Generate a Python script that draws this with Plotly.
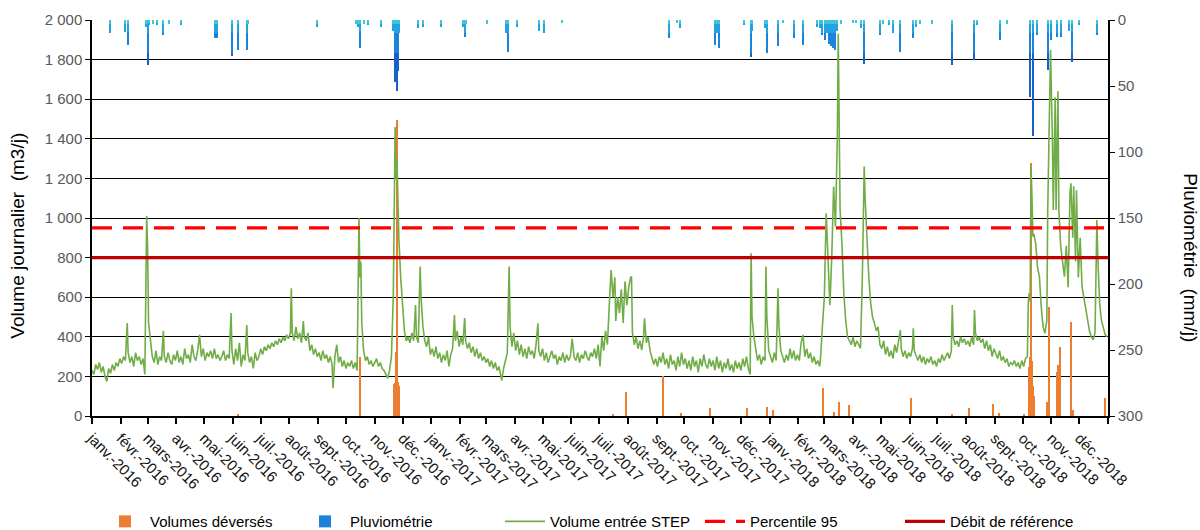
import pandas as pd
import plotly.graph_objects as go

START = pd.Timestamp("2016-01-01")

# ---- month tick labels ----
mois = ["janv.", "févr.", "mars", "avr.", "mai", "juin", "juil.", "août", "sept.", "oct.", "nov.", "déc."]
annees = [2016, 2017, 2018]

# ---- Volume entrée STEP (day offset from 2016-01-01, m3/j) ----
entree_2016 = [(0,230),(2,210),(4,260),(6,235),(8,270),(10,220),(12,250),(14,200),(16,175),(18,240),(20,215),(22,260),
    (24,230),(26,270),(28,250),(30,290),(32,265),(34,300),(36,280),(38,470),(39,320),(41,270),(43,300),(45,250),(47,320),
    (49,280),(51,300),(53,260),(55,290),(57,210),(59,1010),(60,850),(61,470),(63,380),(65,300),(67,270),(69,330),(71,260),
    (73,300),(75,280),(77,430),(78,300),(80,270),(82,320),(84,280),(86,260),(88,310),(90,280),(92,330),(94,270),(96,300),
    (98,260),(100,340),(102,290),(104,310),(106,270),(108,360),(110,300),(112,280),(114,330),(116,410),(118,300),(120,340),
    (122,280),(124,320),(126,300),(128,330),(130,290),(132,340),(134,290),(136,310),(138,280),(140,300),(142,330),(144,280),
    (146,310),(148,290),(150,520),(151,330),(153,260),(155,340),(157,280),(159,370),(161,250),(163,310),(165,280),(167,460),
    (168,320),(170,270),(172,300),(174,240),(176,320),(178,280),(180,300),(182,340),(184,310),(186,350),(188,330),(190,360),
    (192,340),(194,370),(196,350),(198,380),(200,360),(202,390),(204,370),(206,400),(208,380),(210,410),(212,390),(214,420),
    (215,645),(216,420),(218,380),(220,450),(222,390),(224,420),(226,370),(228,480),(229,400),(231,380),(233,420),(235,330),
    (237,360),(239,310),(241,340),(243,300),(245,320),(247,280),(249,330),(251,290),(253,310),(255,270),(257,300),(259,260),
    (260,140),(262,300),(264,360),(266,270),(268,300),(270,250),(272,280),(274,240),(276,270),(278,250),(280,280),(282,240),
    (284,270),(286,230),(288,1000),(289,700),(290,780),(291,470),(293,330),(295,280),(297,300),(299,260),(301,280),(303,250),
    (305,270),(307,290),(309,250),(311,270),(313,240),(315,230),(317,210),(319,190),(321,230),(323,300),(325,600),(327,1460),
    (328,1200),(329,1300),(330,1100),(331,900),(333,700),(335,540),(337,430),(339,380),(341,400),(343,370),(345,420),(347,380),
    (349,560),(350,400),(352,370),(354,755),(355,600),(357,450),(359,380),(361,350),(363,400),(365,310)]

entree_2017 = [(367,340),(369,300),(371,350),(373,290),(375,320),(377,270),(379,310),(381,280),(383,330),(385,250),(387,310),
    (389,340),(391,510),(392,380),(394,430),(396,350),(398,400),(400,360),(402,495),(403,380),(405,340),(407,370),(409,320),
    (411,350),(413,300),(415,340),(417,290),(419,320),(421,280),(423,300),(425,270),(427,290),(429,250),(431,280),(433,240),
    (435,270),(437,230),(439,250),(441,200),(442,180),(444,240),(446,280),(448,320),(450,755),(451,450),(453,350),(455,420),
    (457,330),(459,380),(461,310),(463,360),(465,300),(467,340),(469,290),(471,350),(473,310),(475,330),(477,290),(479,360),
    (481,468),(482,330),(484,300),(486,340),(488,280),(490,320),(492,270),(494,300),(496,330),(498,290),(500,310),(502,260),
    (504,300),(506,280),(508,320),(510,270),(512,310),(514,280),(516,300),(518,390),(520,300),(522,280),(524,320),(526,270),
    (528,310),(530,290),(532,330),(534,300),(536,280),(538,320),(540,300),(542,340),(544,290),(546,360),(548,250),(550,400),
    (552,330),(554,430),(556,360),(558,560),(560,737),(562,600),(564,700),(565,480),(567,600),(569,520),(571,640),(573,470),
    (575,680),(577,560),(579,650),(581,700),(582,704),(583,420),(585,360),(587,400),(589,340),(591,380),(593,333),(595,400),
    (596,493),(598,370),(600,400),(602,330),(604,300),(606,260),(608,290),(610,250),(612,300),(614,270),(616,320),(618,260),
    (620,290),(622,240),(624,310),(626,260),(628,280),(630,230),(632,300),(634,250),(636,320),(638,260),(640,290),(642,240),
    (644,280),(646,230),(648,300),(650,250),(652,280),(654,220),(656,290),(658,250),(660,310),(662,260),(664,240),(666,290),
    (668,250),(670,280),(672,230),(674,300),(676,240),(678,280),(680,220),(682,270),(684,240),(686,290),(688,230),(690,260),
    (692,220),(694,280),(696,240),(698,270),(700,230),(702,290),(704,250),(706,300),(708,240),(710,210),(711,822),(712,500),
    (714,400),(716,330),(718,280),(720,310),(722,260),(724,300),(726,280),(727,755),(728,500),(730,330)]

entree_2018 = [(732,300),(734,270),(736,320),(738,280),(740,645),(741,450),(743,330),(745,300),(747,270),(749,310),(751,280),
    (753,340),(755,290),(757,330),(759,280),(761,310),(763,280),(765,370),(767,410),(769,300),(771,340),(773,290),(775,320),
    (777,270),(779,300),(781,260),(783,280),(785,250),(786,300),(788,460),(790,600),(792,1024),(794,800),(796,560),(798,800),
    (800,1159),(802,957),(804,1400),(805,1930),(806,1400),(807,1040),(809,872),(811,620),(813,485),(815,400),(817,380),
    (819,360),(821,400),(823,350),(825,380),(827,360),(829,342),(831,700),(833,1260),(834,1100),(836,872),(838,700),(840,570),
    (842,500),(844,470),(846,430),(848,450),(850,360),(852,340),(854,380),(856,310),(858,350),(860,300),(862,330),(864,290),
    (866,360),(868,320),(870,380),(872,434),(873,340),(875,300),(877,330),(879,290),(881,320),(883,300),(885,340),(886,443),
    (887,330),(889,300),(891,280),(893,310),(895,270),(897,300),(899,260),(901,290),(903,270),(905,300),(907,260),(909,280),
    (911,250),(913,290),(915,270),(917,310),(919,280),(921,300),(923,320),(925,290),(927,330),(928,560),(929,400),(931,360),
    (933,380),(935,350),(937,400),(939,370),(941,390),(943,360),(945,380),(947,350),(949,400),(951,360),(952,535),(953,420),
    (955,380),(957,400),(959,370),(961,390),(963,340),(965,380),(967,330),(969,360),(971,300),(973,340),(975,310),(977,290),
    (979,330),(981,280),(983,300),(985,270),(987,290),(989,250),(991,270),(993,260),(995,280),(997,250),(999,270),(1001,240),
    (1003,280),(1005,250),(1007,290),(1009,300),(1010,569),(1011,620),(1012,580),(1013,1260),(1014,1100),(1015,906),
    (1016,920),(1018,872),(1020,750),(1022,704),(1024,550),(1026,450),(1028,418),(1030,480),(1031,1040),(1033,1750),
    (1034,1848),(1036,1400),(1037,1040),(1039,1610),(1040,1040),(1042,1640),(1043,1040),(1045,855),(1047,780),(1049,704),
    (1051,860),(1053,650),(1055,1125),(1056,1175),(1058,900),(1059,1160),(1061,780),(1062,1140),(1064,700),(1066,900),
    (1068,653),(1070,600),(1072,535),(1074,480),(1076,430),(1078,400),(1080,385),(1082,420),(1084,990),(1085,800),
    (1087,569),(1089,480),(1091,450),(1093,410),(1095,400)]

# ---- Volumes déversés (day offset, m3/j) ----
deverses = [(158,8),(290,300),(326,160),(327,165),(328,325),(329,320),(330,1495),(331,170),(332,150),(562,10),(576,123),
    (616,200),(636,15),(667,39),(707,39),(729,47),(735,30),(789,140),(801,20),(806,72),(817,56),(884,90),(928,10),
    (947,39),(972,60),(979,15),(1006,10),(1011,250),(1012,300),(1013,1280),(1014,280),(1015,200),(1016,150),(1017,100),
    (1031,72),(1033,552),(1041,224),(1043,260),(1045,350),(1057,476),(1059,30),(1093,90)]

# ---- Pluviométrie (day offset, mm/j) ----
pluie = [(19,10),(36,9),(39,19),(58,5),(60,34),(62,4),(66,3),(70,4),(77,11),(83,3),(96,4),(133,14),(135,14),(151,27),
    (158,23),(167,23),(168,3),(243,5),(285,3),(287,5),(289,21),(293,3),(298,4),(312,5),(325,8),(327,47),(328,40),(329,54),
    (330,39),(331,10),(352,6),(357,5),(377,5),(400,5),(402,13),(404,3),(426,3),(447,10),(449,24),(459,5),(482,8),(488,10),
    (507,2),(623,14),(631,2),(634,6),(672,19),(674,10),(676,21),(703,4),(711,28),(712,8),(726,6),(728,25),(740,20),(745,2),
    (757,14),(767,19),(782,5),(785,6),(788,11),(791,15),(793,10),(795,18),(797,20),(799,21),(802,23),(804,8),(808,3),(821,2),
    (824,2),(830,6),(833,33),(850,11),(853,3),(860,4),(864,10),(872,24),(886,14),(889,5),(893,3),(906,3),(928,34),(952,30),
    (955,4),(980,15),(987,3),(1012,58),(1015,88),(1020,11),(1031,38),(1035,15),(1041,13),(1045,13),(1054,8),(1057,32),
    (1065,4),(1084,11)]

percentile_95 = 950
debit_reference = 800

# ---------------------------------------------------------------
def to_dates(days):
    return [START + pd.Timedelta(days=int(d)) for d in days]

entree = entree_2016 + entree_2017 + entree_2018
e_x = to_dates([d for d, _ in entree])
e_y = [v for _, v in entree]
d_x = to_dates([d for d, _ in deverses])
d_y = [v for _, v in deverses]
p_x = to_dates([d for d, _ in pluie])
p_v = [v for _, v in pluie]

DAY_MS = 86400000
fig = go.Figure()

fig.add_trace(go.Bar(x=d_x, y=d_y, name="Volumes déversés", marker=dict(color="#ED7D31", line=dict(width=0)),
                     width=1.6 * DAY_MS, legendrank=1, offsetgroup="dev"))

# rain bars drawn as stacked colour bands to imitate the vertical gradient
bands = [(0, 3, "#3CC6D6"), (3, 10, "#22A2E2"), (10, 25, "#1B84DA"), (25, 400, "#1762C9")]
for i, (lo, hi, col) in enumerate(bands):
    seg = [max(0, min(v, hi) - lo) for v in p_v]
    fig.add_trace(go.Bar(x=p_x, y=seg, name="Pluviométrie", yaxis="y2",
                         marker=dict(color=col, line=dict(width=0)), width=1.6 * DAY_MS,
                         showlegend=(i == 2), legendgroup="pluie", legendrank=2, offsetgroup="pluie"))

fig.add_trace(go.Scatter(x=e_x, y=e_y, mode="lines", name="Volume entrée STEP",
                         line=dict(color="#70AD47", width=1.6), legendrank=3))

x_span = [pd.Timestamp("2016-01-01"), pd.Timestamp("2019-01-01")]
fig.add_trace(go.Scatter(x=x_span, y=[percentile_95] * 2, mode="lines", name="Percentile 95",
                         line=dict(color="#FF0000", width=3.2, dash="20px,11px"), legendrank=4))
fig.add_trace(go.Scatter(x=x_span, y=[debit_reference] * 2, mode="lines", name="Débit de référence",
                         line=dict(color="#C00000", width=3.2), legendrank=5))

tickvals = [pd.Timestamp(year=y, month=m, day=1) for y in annees for m in range(1, 13)] + [pd.Timestamp("2019-01-01")]
ticktext = [f"{mois[m - 1]}-{y}" for y in annees for m in range(1, 13)] + [""]

font_main = "Liberation Sans, Arial, sans-serif"
fig.update_layout(
    width=1200, height=530,
    margin=dict(l=92, r=92, t=20, b=114, autoexpand=False),
    plot_bgcolor="white", paper_bgcolor="white",
    barmode="stack",
    separators=", ",
    font=dict(family=font_main, size=14, color="#000000"),
    showlegend=True,
    legend=dict(orientation="h", x=0.5, xanchor="center", y=-0.225, yanchor="top",
                font=dict(family="Liberation Sans Narrow, Arial Narrow, Liberation Sans", size=15, color="#000"),
                itemwidth=40, entrywidth=145, tracegroupgap=0),
    xaxis=dict(type="date", range=x_span, tickvals=tickvals, ticktext=ticktext, tickangle=45, automargin=False,
               showgrid=False, showline=True, linecolor="black", linewidth=1.5,
               ticks="outside", ticklen=6, tickcolor="black", tickwidth=1.5,
               tickfont=dict(size=15, color="#111111")),
    yaxis=dict(range=[0, 2000], dtick=200, tickformat=",d", showgrid=True, gridcolor="#000000", gridwidth=1.3,
               automargin=False, showline=True, linecolor="black", linewidth=1.5, ticks="outside", ticklen=5,
               tickcolor="black", tickfont=dict(size=15, color="#595959"), zeroline=False),
    yaxis2=dict(overlaying="y", side="right", range=[300, 0], dtick=50, showgrid=False, zeroline=False,
                automargin=False, showline=True, linecolor="black", linewidth=1.5, ticks="outside", ticklen=5,
                tickcolor="black", tickfont=dict(size=15, color="#595959")),
)

fig.add_annotation(text="Volume journalier  (m3/j)", xref="paper", yref="paper", x=-0.073, y=0.455,
                   xanchor="center", yanchor="middle",
                   textangle=-90, showarrow=False, font=dict(size=19, color="#000"))
fig.add_annotation(text="Pluviométrie  (mm/j)", xref="paper", yref="paper", x=1.081, y=0.40,
                   xanchor="center", yanchor="middle",
                   textangle=90, showarrow=False, font=dict(size=19, color="#000"))

# remove the browser's default page margin so the figure sits at the top-left corner
fig.write_html("out.html", config={"displayModeBar": False},
               post_script="document.body.style.margin='0px';document.body.style.overflow='hidden';")
